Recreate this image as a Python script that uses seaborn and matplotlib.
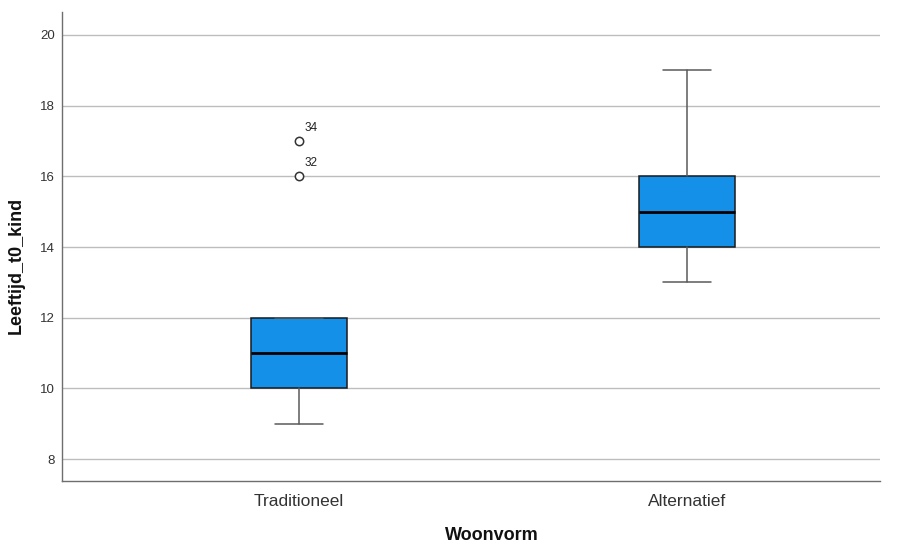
import matplotlib
matplotlib.use("Agg")
import matplotlib.pyplot as plt
import seaborn as sns

# Summary statistics per housing type (age of child at t0)
groups = ["Traditioneel", "Alternatief"]
whisker_low = [9, 13]
q1 = [10, 14]
median = [11, 15]
q3 = [12, 16]
whisker_high = [12, 19]
outlier_values = [[16, 17], []]
outlier_cases = [["32", "34"], []]

y_ticks = [8, 10, 12, 14, 16, 18, 20]

sns.set_theme(style="white")
plt.rcParams["font.family"] = ["Liberation Sans", "DejaVu Sans"]

fig = plt.figure(figsize=(9.09, 5.44), dpi=100)
ax = fig.add_axes([0.0682, 0.1158, 0.8998, 0.8622])

stats = []
for i, g in enumerate(groups):
    stats.append(dict(label=g, whislo=whisker_low[i], q1=q1[i], med=median[i],
                      q3=q3[i], whishi=whisker_high[i], fliers=outlier_values[i]))

positions = list(range(len(groups)))
ax.bxp(stats, positions=positions, widths=0.247, capwidths=0.124,
       patch_artist=True, showfliers=True,
       boxprops=dict(facecolor="#1590e8", edgecolor="#1a1a1a", linewidth=1.1),
       medianprops=dict(color="#000000", linewidth=2.0),
       whiskerprops=dict(color="#5a5a5a", linewidth=1.1),
       capprops=dict(color="#5a5a5a", linewidth=1.1),
       flierprops=dict(marker="o", markerfacecolor="white", markeredgecolor="#333333",
                       markersize=6, markeredgewidth=1.1),
       zorder=3)

# Case numbers next to the outliers
for i, (vals, cases) in enumerate(zip(outlier_values, outlier_cases)):
    for v, c in zip(vals, cases):
        ax.annotate(c, (positions[i], v), xytext=(4, 5), textcoords="offset points",
                    fontsize=8.5, color="#222222", ha="left", va="bottom")

ax.set_xlim(-0.611, 1.497)
ax.set_ylim(7.38, 20.65)
ax.set_yticks(y_ticks)
ax.set_xticks(positions)
ax.set_xticklabels(groups)
ax.yaxis.grid(True, color="#bdbdbd", linewidth=1.0, zorder=0)
ax.xaxis.grid(False)
ax.set_axisbelow(True)

for side in ["top", "right"]:
    ax.spines[side].set_visible(False)
for side in ["left", "bottom"]:
    ax.spines[side].set_color("#6e6e6e")
    ax.spines[side].set_linewidth(1.0)

ax.tick_params(axis="y", length=0, labelsize=9.5, labelcolor="#333333", pad=5)
ax.tick_params(axis="x", length=0, labelsize=12.5, labelcolor="#333333", pad=9)

ax.set_xlabel("Woonvorm", fontsize=13, fontweight="bold", color="#111111")
ax.set_ylabel("Leeftijd_t0_kind", fontsize=13, fontweight="bold", color="#111111")
ax.xaxis.set_label_coords(0.526, -0.097)
ax.yaxis.set_label_coords(-0.045, 0.46)

fig.savefig("out.png", dpi=100, facecolor="white")
